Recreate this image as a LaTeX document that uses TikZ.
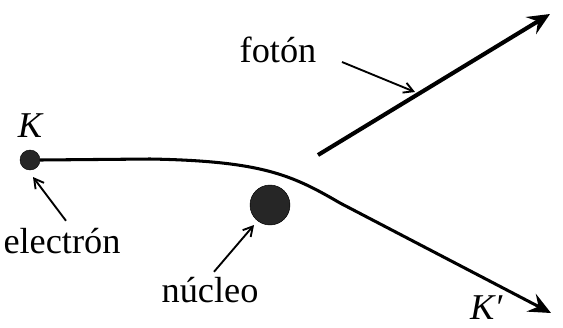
\documentclass[tikz,border=0pt]{standalone}
\usepackage{fontspec}
\setmainfont{Liberation Serif}
\usetikzlibrary{arrows.meta, positioning}

\begin{document}
\begin{tikzpicture}[x=0.03cm, y=-0.03cm,
    particle/.style={circle, fill=black!85, draw=black, inner sep=0pt},
    lbl/.style={font=\fontsize{31}{36}\selectfont, inner sep=1pt},
    track/.style={draw=black, line width=2.6pt, -{Stealth[length=19pt, width=17pt, inset=7pt]}},
    photon/.style={draw=black, line width=3.5pt, -{Stealth[length=19pt, width=17pt, inset=7pt]}},
    pointer/.style={draw=black, line width=1.6pt, -{Straight Barb[length=8pt, width=9pt]}}
]
\useasboundingbox (0,0) rectangle (563,327);

\node[particle, minimum size=20*0.03cm] (electron) at (30,160) {};
\node[particle, minimum size=40*0.03cm] (nucleus) at (270,205) {};

\node[lbl, font=\fontsize{31}{36}\selectfont\itshape] (K) at (30,126) {K};
\node[lbl, font=\fontsize{31}{36}\selectfont\itshape, inner sep=0pt, anchor=base west] (Kp) at (470,319) {K′};
\node[lbl] (photonlbl) at (278,50) {fotón};
\node[lbl] (electronlbl) at (62,241) {electrón};
\node[lbl] (nucleuslbl) at (210,290) {núcleo};

\coordinate (trackend) at (551,313);
\coordinate (photonstart) at (318,155);
\coordinate (photonend) at (550,14);
\coordinate (photonmark) at (415,92);

% trajectory of the electron
\draw[track] (electron.east) -- (150,159) .. controls (262,161) and (292,175) .. (340,203) -- (trackend);

% emitted photon
\draw[photon] (photonstart) -- (photonend);

% labels
\draw[pointer] (342,62) -- (photonmark);
\draw[pointer] (electronlbl.north) ++(4,-6) -- ([shift={(3,17)}]electron.center);
\draw[pointer] (nucleuslbl.north) ++(4,-4) -- ([shift={(-16,20)}]nucleus.center);
\end{tikzpicture}
\end{document}
